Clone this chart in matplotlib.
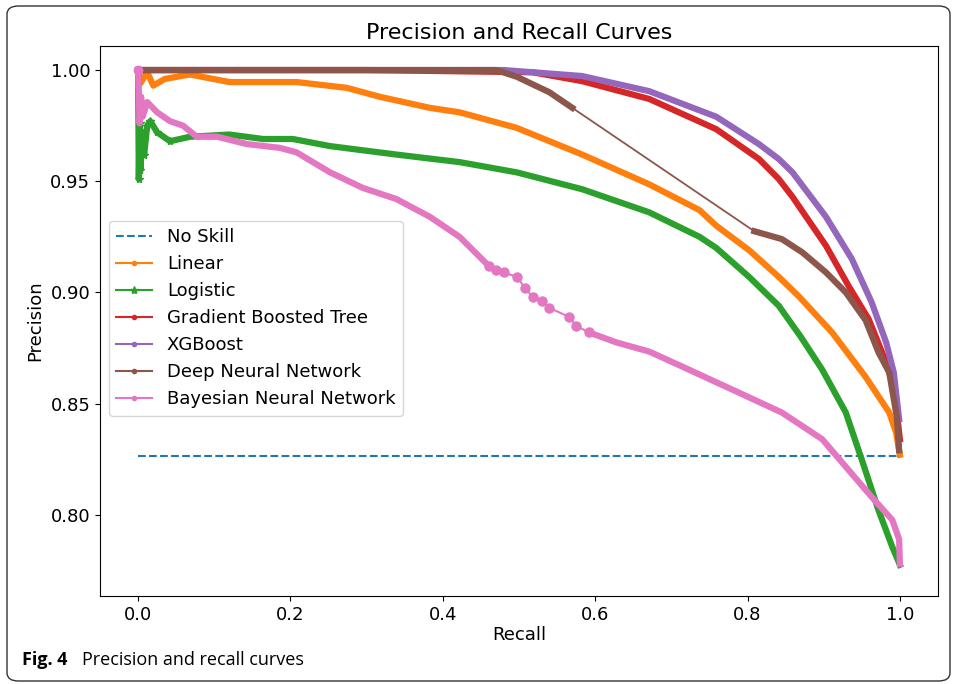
import numpy as np
import matplotlib
matplotlib.use("Agg")
import matplotlib.pyplot as plt
from matplotlib.lines import Line2D
from matplotlib.patches import FancyBboxPatch

# values
noskill_x = [0.0, 1.0]
noskill_y = [0.8265, 0.8265]

linear_x = [0.0, 0.003, 0.012, 0.02, 0.035, 0.068, 0.12, 0.208, 0.274, 0.317, 0.383, 0.422,
            0.497, 0.583, 0.671, 0.737, 0.759, 0.802, 0.841, 0.868, 0.911, 0.955, 0.986, 0.995, 1.0]
linear_y = [1.0, 0.994, 0.999, 0.993, 0.996, 0.998, 0.9946, 0.9946, 0.992, 0.988, 0.983, 0.981,
            0.974, 0.962, 0.9486, 0.937, 0.930, 0.919, 0.907, 0.898, 0.882, 0.862, 0.846, 0.837, 0.827]

logistic_x = [0.0, 0.001, 0.002, 0.003, 0.005, 0.008, 0.012, 0.016, 0.025, 0.042, 0.068, 0.12,
              0.164, 0.203, 0.252, 0.339, 0.422, 0.497, 0.583, 0.671, 0.737, 0.759, 0.802, 0.841,
              0.870, 0.898, 0.929, 0.95, 0.972, 0.99, 1.0]
logistic_y = [1.0, 0.951, 0.976, 0.955, 0.972, 0.962, 0.975, 0.977, 0.972, 0.968, 0.970, 0.971,
              0.969, 0.969, 0.9658, 0.962, 0.9586, 0.954, 0.9464, 0.936, 0.925, 0.920, 0.907, 0.894,
              0.880, 0.8653, 0.846, 0.8248, 0.802, 0.7856, 0.7775]

gbt_x = [0.0, 0.3, 0.518, 0.583, 0.671, 0.759, 0.815, 0.841, 0.859, 0.903, 0.933, 0.959, 0.979,
         0.990, 0.995, 1.0]
gbt_y = [1.0, 1.0, 0.999, 0.995, 0.987, 0.9734, 0.960, 0.951, 0.943, 0.921, 0.9027, 0.888, 0.871,
         0.860, 0.849, 0.834]

xgb_x = [0.0, 0.3, 0.48, 0.583, 0.671, 0.759, 0.815, 0.841, 0.859, 0.903, 0.937, 0.963, 0.982,
         0.992, 0.999]
xgb_y = [1.0, 1.0, 1.0, 0.9973, 0.9905, 0.979, 0.9667, 0.960, 0.954, 0.934, 0.915, 0.8955, 0.8775,
         0.864, 0.843]

# deep net has a gap between the two dense parts
dnn_x1 = [0.0, 0.3, 0.47, 0.497, 0.54, 0.57]
dnn_y1 = [1.0, 1.0, 1.0, 0.997, 0.990, 0.983]
dnn_x2 = [0.809, 0.845, 0.872, 0.903, 0.929, 0.955, 0.972, 0.986, 0.996, 0.999]
dnn_y2 = [0.9275, 0.924, 0.918, 0.909, 0.900, 0.8875, 0.873, 0.864, 0.844, 0.829]

# bayesian net: dense start, sparse middle, dense end
bnn_x1 = [0.0, 0.002, 0.004, 0.006, 0.012, 0.025, 0.042, 0.059, 0.077, 0.104, 0.143, 0.186, 0.208,
          0.252, 0.295, 0.339, 0.383, 0.422, 0.461]
bnn_y1 = [1.0, 0.976, 0.988, 0.979, 0.9856, 0.981, 0.977, 0.975, 0.970, 0.970, 0.9667, 0.965, 0.963,
          0.954, 0.947, 0.942, 0.934, 0.925, 0.9117]
bnn_xs = [0.461, 0.47, 0.48, 0.497, 0.508, 0.518, 0.530, 0.540, 0.566, 0.575, 0.592]
bnn_ys = [0.9117, 0.910, 0.909, 0.907, 0.902, 0.898, 0.896, 0.893, 0.889, 0.885, 0.882]
bnn_x2 = [0.592, 0.628, 0.671, 0.714, 0.780, 0.845, 0.898, 0.933, 0.963, 0.990, 0.999, 1.0]
bnn_y2 = [0.882, 0.8775, 0.8734, 0.8667, 0.8563, 0.846, 0.834, 0.820, 0.808, 0.7977, 0.789, 0.778]

fig = plt.figure(figsize=(9.54, 6.84), dpi=100)
ax = fig.add_axes([0.1048, 0.1287, 0.8784, 0.804])

band = 4.5
ax.plot(noskill_x, noskill_y, linestyle="--", color="tab:blue", lw=1.5)

ax.plot(linear_x, linear_y, color="tab:orange", lw=band, solid_joinstyle="round")
ax.plot(logistic_x, logistic_y, color="tab:green", lw=band, solid_joinstyle="round")
ax.plot(logistic_x[:10], logistic_y[:10], color="tab:green", lw=1.5, marker="*", ms=6)
ax.plot(gbt_x, gbt_y, color="tab:red", lw=band, solid_joinstyle="round")
ax.plot(xgb_x, xgb_y, color="tab:purple", lw=band, solid_joinstyle="round")
ax.plot(dnn_x1 + dnn_x2, dnn_y1 + dnn_y2, color="tab:brown", lw=1.3)
ax.plot(dnn_x1, dnn_y1, color="tab:brown", lw=band, solid_joinstyle="round")
ax.plot(dnn_x2, dnn_y2, color="tab:brown", lw=band, solid_joinstyle="round")
ax.plot(bnn_x1, bnn_y1, color="tab:pink", lw=band, solid_joinstyle="round")
ax.plot(bnn_xs, bnn_ys, color="tab:pink", lw=1.5, marker="o", ms=6.5)
ax.plot(bnn_x2, bnn_y2, color="tab:pink", lw=band, solid_joinstyle="round")
ax.plot(bnn_x1[:1], bnn_y1[:1], color="tab:pink", marker="o", ms=6)

ax.set_xlim(-0.05, 1.05)
ax.set_ylim(0.7635, 1.0108)
ax.set_xticks([0.0, 0.2, 0.4, 0.6, 0.8, 1.0])
ax.set_yticks([0.80, 0.85, 0.90, 0.95, 1.00])
ax.yaxis.set_major_formatter(matplotlib.ticker.FormatStrFormatter("%.2f"))
ax.tick_params(labelsize=13)
ax.set_xlabel("Recall", fontsize=13, labelpad=2)
ax.set_ylabel("Precision", fontsize=13)
ax.set_title("Precision and Recall Curves", fontsize=16, pad=5)

handles = [
    Line2D([], [], color="tab:blue", linestyle="--", lw=1.5),
    Line2D([], [], color="tab:orange", marker=".", lw=1.5),
    Line2D([], [], color="tab:green", marker="*", lw=1.5),
    Line2D([], [], color="tab:red", marker=".", lw=1.5),
    Line2D([], [], color="tab:purple", marker=".", lw=1.5),
    Line2D([], [], color="tab:brown", marker=".", lw=1.5),
    Line2D([], [], color="tab:pink", marker=".", lw=1.5),
]
labels = ["No Skill", "Linear", "Logistic", "Gradient Boosted Tree", "XGBoost",
          "Deep Neural Network", "Bayesian Neural Network"]
ax.legend(handles, labels, loc="center left", bbox_to_anchor=(0.0, 0.505),
          fontsize=13, handlelength=2.0, borderaxespad=0.5)

# frame and caption of the paper figure
fig.patches.append(FancyBboxPatch((7 / 954, 3 / 684), 943 / 954, 675 / 684,
                                  boxstyle="round,pad=0,rounding_size=0.012",
                                  transform=fig.transFigure, fill=False,
                                  edgecolor="#333333", lw=1.0))
fig.text(22 / 954, 1 - 660 / 684, "Fig. 4", fontsize=13, fontweight="bold",
         family="Open Sans", va="center")
fig.text(82 / 954, 1 - 660 / 684, "Precision and recall curves", fontsize=13,
         family="Open Sans", va="center")

fig.savefig("out.png", dpi=100)
